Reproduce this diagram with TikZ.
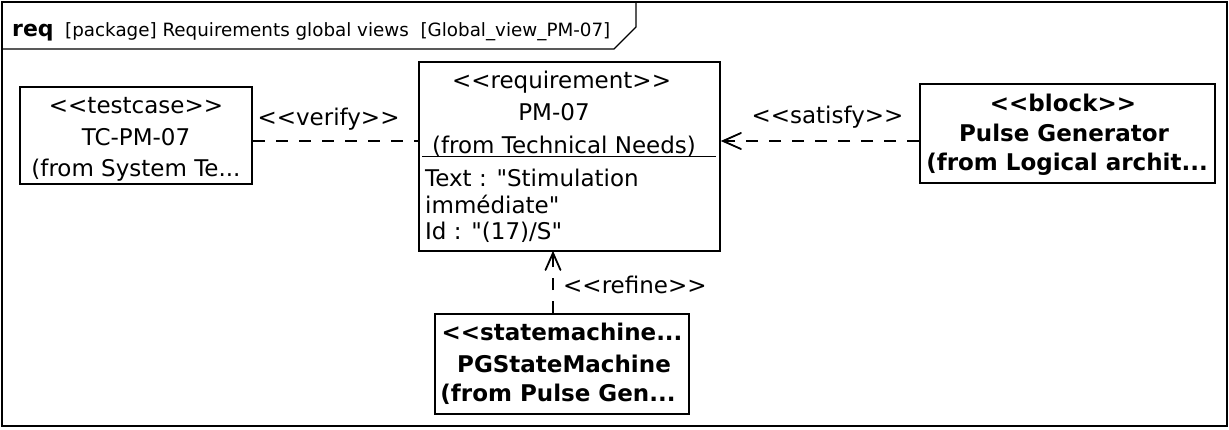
\documentclass[tikz,border=0pt]{standalone}
\usepackage{fontspec}
\setmainfont{DejaVu Sans}[Ligatures=TeXOff]
\usetikzlibrary{arrows.meta}
\tikzset{
  umlbox/.style={draw, line width=2pt, fill=white, inner sep=0pt},
  txt/.style={font=\fontsize{23}{27}\selectfont, inner sep=0pt, anchor=base},
  btxt/.style={txt, font=\fontsize{23}{27}\selectfont\bfseries},
  ltxt/.style={txt, anchor=base west},
  dep/.style={line width=2pt, dash pattern=on 12pt off 11pt},
  vtip/.style={line width=1.8pt, line cap=round, line join=miter},
}
\begin{document}
\begin{tikzpicture}[x=1pt, y=-1pt]
\useasboundingbox (0,0) rectangle (1229,429);
% frame
\draw[line width=1.5pt] (2,2) rectangle (1227,426);
\draw[line width=1.3pt] (2,49) -- (614,49) -- (636,27) -- (636,2);
\node[anchor=base west, inner sep=0pt, font=\fontsize{22}{25}\selectfont\bfseries] (hdr) at (12,36) {req};
\node[anchor=base west, inner sep=0pt, font=\fontsize{18.3}{22}\selectfont] (hdrt) at (65,36) {[package] Requirements global views\ \ [Global\_view\_PM-07]};
% boxes
\node[umlbox, minimum width=232pt, minimum height=97pt] (tc) at (136,135.5) {};
\node[umlbox, minimum width=301pt, minimum height=189pt] (req) at (569.5,156.5) {};
\node[umlbox, minimum width=295pt, minimum height=99pt] (blk) at (1067.5,133.5) {};
\node[umlbox, minimum width=254pt, minimum height=100pt] (sm) at (562,364) {};
\draw[line width=1pt] (req.north west) ++(4,95) coordinate (sepl) -- ++(294,0) coordinate (sepr);
% testcase text
\node[txt] (tc1) at (136,113) {<<testcase>>};
\node[txt] (tc2) at (136,145) {TC-PM-07};
\node[txt] (tc3) at (136,176) {(from System Te...};
% requirement text
\node[txt] (rq1) at (561.5,88) {<<requirement>>};
\node[txt] (rq2) at (554,120) {PM-07};
\node[txt] (rq3) at (564,153) {(from Technical Needs)};
\node[ltxt] (rq4) at (425,186) {Text : "Stimulation};
\node[ltxt] (rq5) at (425,213) {immédiate"};
\node[ltxt] (rq6) at (425,239) {Id : "(17)/S"};
% block text
\node[btxt] (bk1) at (1063,111) {<<block>>};
\node[btxt] (bk2) at (1064,141) {Pulse Generator};
\node[btxt] (bk3) at (1067,170) {(from Logical archit...};
% state machine text
\node[btxt] (sm1) at (562,340) {<<statemachine...};
\node[btxt] (sm2) at (564,372) {PGStateMachine};
\node[btxt] (sm3) at (558,401) {(from Pulse Gen...};
% connectors
\coordinate (hy) at (0,141);
\coordinate (vx) at (553,0);
\draw[dep] (tc.east |- hy) -- (req.west |- hy);
\draw[dep] (blk.west |- hy) -- ([xshift=2pt]req.east |- hy);
\draw[vtip] (req.east |- hy) ++(20,-8) -- ++(-18,8) -- ++(18,8);
\draw[dep] (sm.north -| vx) -- ([yshift=-2pt]req.south -| vx);
\draw[vtip] (req.south -| vx) ++(-7.5,18) -- ++(7.5,-17) -- ++(7.5,17);
% labels
\node[txt] (lv) at (328.5,125) {<<verify>>};
\node[txt] (ls) at (827.5,123) {<<satisfy>>};
\node[ltxt] (lr) at (563,293) {<<refine>>};
\end{tikzpicture}
\end{document}
